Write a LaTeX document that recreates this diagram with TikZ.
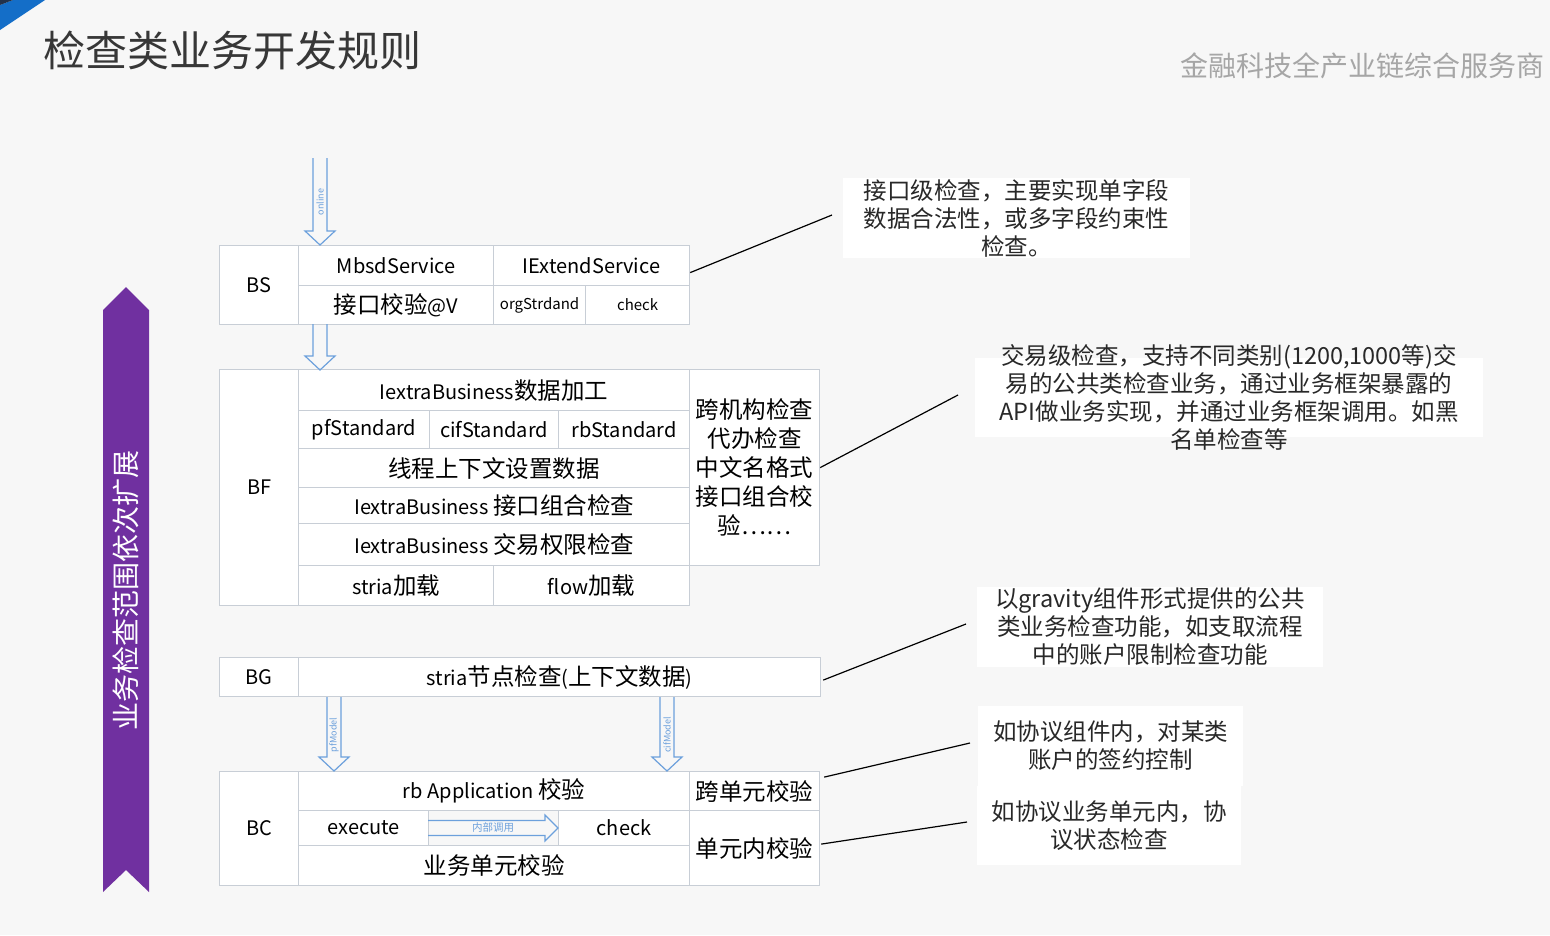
\documentclass[tikz,border=0pt]{standalone}
\usepackage{fontspec}
\setmainfont{Noto Sans CJK SC}
\usetikzlibrary{positioning, calc}

\definecolor{bggray}{RGB}{247,247,247}
\definecolor{cellgray}{RGB}{200,206,214}
\definecolor{arrowblue}{RGB}{108,160,220}
\definecolor{barpurple}{RGB}{112,48,160}
\definecolor{titlegray}{RGB}{55,55,55}
\definecolor{subgray}{RGB}{166,166,166}
\definecolor{cornerblue}{RGB}{20,110,200}
\definecolor{cornerdark}{RGB}{35,50,75}
\definecolor{notetext}{RGB}{40,40,40}

\newcommand{\cellfont}{\fontsize{20}{24}\selectfont}
\newcommand{\smallcellfont}{\fontsize{15}{18}\selectfont}
\newcommand{\notefont}{\fontsize{23.5}{28}\selectfont}
\newcommand{\zh}[1]{{\fontsize{23.5}{28}\selectfont #1}}
\newcommand{\hollowdown}[3]{%
  \draw[hollow] (#1-7,#2) -- (#1-7,#3-14) -- (#1-15,#3-14) -- (#1,#3) -- (#1+15,#3-14) -- (#1+7,#3-14) -- (#1+7,#2);
}

\tikzset{
  cell/.style={draw=cellgray, line width=1.2pt, fill=white, anchor=north west, inner sep=0pt, font=\cellfont, align=center},
  hollow/.style={draw=arrowblue, line width=1.2pt},
  arrowlbl/.style={font=\fontsize{9}{10}\selectfont, text=arrowblue, fill=bggray, inner sep=0.5pt},
  note/.style={fill=white, inner sep=0pt, font=\notefont, text=notetext},
  callout/.style={draw=black, line width=1.2pt}
}

\begin{document}
\begin{tikzpicture}[x=1pt, y=-1pt]
  \useasboundingbox (0,0) rectangle (1550,935);
  \fill[bggray] (0,0) rectangle (1550,935);

  % corner and titles
  \fill[cornerblue] (13,0) -- (45,0) -- (0,30) -- (0,5) -- cycle;
  \fill[cornerdark] (0,0) -- (13,0) -- (0,5) -- cycle;
  \node[anchor=west, inner sep=0pt, font=\fontsize{42}{46}\selectfont, text=titlegray] (title) at (43,50) {检查类业务开发规则};
  \node[anchor=east, inner sep=0pt, font=\fontsize{28}{32}\selectfont, text=subgray] (slogan) at (1545,66) {金融科技全产业链综合服务商};

  % scope bar
  \fill[barpurple] (103,310) -- (126,287) -- (149,310) -- (149,892) -- (126,870) -- (103,892) -- cycle;
  \node[rotate=90, font=\fontsize{28}{32}\selectfont, text=white] (scopebar) at (126,590) {业务检查范围依次扩展};

  % BS
  \node[cell, minimum width=79pt, minimum height=79pt] (bsLbl) at (219,245) {BS};
  \node[cell, minimum width=195pt, minimum height=40pt] (bsMbsd) at (298,245) {MbsdService};
  \node[cell, minimum width=196pt, minimum height=40pt] (bsExt) at (493,245) {IExtendService};
  \node[cell, minimum width=195pt, minimum height=39pt] (bsChk) at (298,285) {\zh{接口校验}@V};
  \node[cell, minimum width=92pt, minimum height=39pt, font=\smallcellfont] (bsOrg) at (493,285) {orgStrdand};
  \node[cell, minimum width=104pt, minimum height=39pt, font=\smallcellfont] (bsCheck) at (585,285) {check};

  % BF
  \node[cell, minimum width=79pt, minimum height=236pt] (bfLbl) at (219,369) {BF};
  \node[cell, minimum width=391pt, minimum height=41pt] (bfData) at (298,369) {IextraBusiness\zh{数据加工}};
  \node[cell, minimum width=131pt, minimum height=38pt] (bfPf) at (298,410) {pfStandard};
  \node[cell, minimum width=129pt, minimum height=38pt] (bfCif) at (429,410) {cifStandard};
  \node[cell, minimum width=131pt, minimum height=38pt] (bfRb) at (558,410) {rbStandard};
  \node[cell, minimum width=391pt, minimum height=39pt] (bfCtx) at (298,448) {\zh{线程上下文设置数据}};
  \node[cell, minimum width=391pt, minimum height=36pt] (bfIntf) at (298,487) {IextraBusiness \zh{接口组合检查}};
  \node[cell, minimum width=391pt, minimum height=42pt] (bfAuth) at (298,523) {IextraBusiness \zh{交易权限检查}};
  \node[cell, minimum width=195pt, minimum height=40pt] (bfStria) at (298,565) {stria\zh{加载}};
  \node[cell, minimum width=196pt, minimum height=40pt] (bfFlow) at (493,565) {flow\zh{加载}};
  \node[cell, minimum width=130pt, minimum height=196pt, font=\fontsize{23.5}{29}\selectfont] (bfSide) at (689,369) {跨机构检查\\代办检查\\中文名格式\\接口组合校\\验……};

  % BG
  \node[cell, minimum width=79pt, minimum height=39pt] (bgLbl) at (219,657) {BG};
  \node[cell, minimum width=522pt, minimum height=39pt] (bgNode) at (298,657) {stria\zh{节点检查}(\zh{上下文数据})};

  % BC
  \node[cell, minimum width=79pt, minimum height=114pt] (bcLbl) at (219,771) {BC};
  \node[cell, minimum width=391pt, minimum height=39pt] (bcApp) at (298,771) {rb Application \zh{校验}};
  \node[cell, minimum width=130pt, minimum height=35pt] (bcExec) at (298,810) {execute};
  \node[cell, minimum width=131pt, minimum height=35pt] (bcCheck) at (558,810) {check};
  \node[cell, minimum width=391pt, minimum height=40pt] (bcUnit) at (298,845) {\zh{业务单元校验}};
  \node[cell, minimum width=130pt, minimum height=39pt] (bcCross) at (689,771) {\zh{跨单元校验}};
  \node[cell, minimum width=130pt, minimum height=75pt] (bcInner) at (689,810) {\zh{单元内校验}};

  % hollow arrows
  \hollowdown{320}{158}{245}
  \hollowdown{320}{324}{370}
  \hollowdown{334}{697}{771}
  \hollowdown{667}{697}{771}
  \draw[hollow] (428,820.5) -- (545,820.5) -- (545,815) -- (558,828) -- (545,841) -- (545,835.5) -- (428,835.5);
  \node[arrowlbl, rotate=90] (onlineLbl) at (320,202) {online};
  \node[arrowlbl, rotate=90] (pfLbl) at (334,735) {pfModel};
  \node[arrowlbl, rotate=90] (cifLbl) at (667,735) {cifModel};
  \node[arrowlbl, inner sep=1.5pt, font=\fontsize{10.5}{12}\selectfont] (innerLbl) at (493,828) {内部调用};

  % notes
  \node[note] (noteBS) at (1016.5,218) {\parbox[c][80pt][c]{347pt}{\centering 接口级检查，主要实现单字段\\数据合法性，或多字段约束性\\检查。}};
  \node[note] (noteBF) at (1229,397.5) {\parbox[c][79pt][c]{508pt}{\centering 交易级检查，支持不同类别(1200,1000等)交\\易的公共类检查业务，通过业务框架暴露的\\API做业务实现，并通过业务框架调用。如黑\\名单检查等}};
  \node[note] (noteBG) at (1150,627) {\parbox[c][80pt][c]{346pt}{\centering 以gravity组件形式提供的公共\\类业务检查功能，如支取流程\\中的账户限制检查功能}};
  \node[note] (noteCross) at (1110.5,746) {\parbox[c][80pt][c]{265pt}{\centering 如协议组件内，对某类\\账户的签约控制}};
  \node[note] (noteInner) at (1109,825.5) {\parbox[c][79pt][c]{264pt}{\centering 如协议业务单元内，协\\议状态检查}};

  \coordinate (cBS) at (832,215);
  \coordinate (cBF) at (958,395);
  \coordinate (cBG) at (966,624);
  \coordinate (cCross) at (970,743);
  \coordinate (cInner) at (967,822);
  \draw[callout] ($(bsExt.east)+(0,7)$) -- (cBS);
  \draw[callout] (bfSide.east) -- (cBF);
  \draw[callout] ($(bgNode.east)+(2,3)$) -- (cBG);
  \draw[callout] ($(bcCross.east)+(4,-14)$) -- (cCross);
  \draw[callout] ($(bcInner.east)+(1,-4)$) -- (cInner);
\end{tikzpicture}
\end{document}
